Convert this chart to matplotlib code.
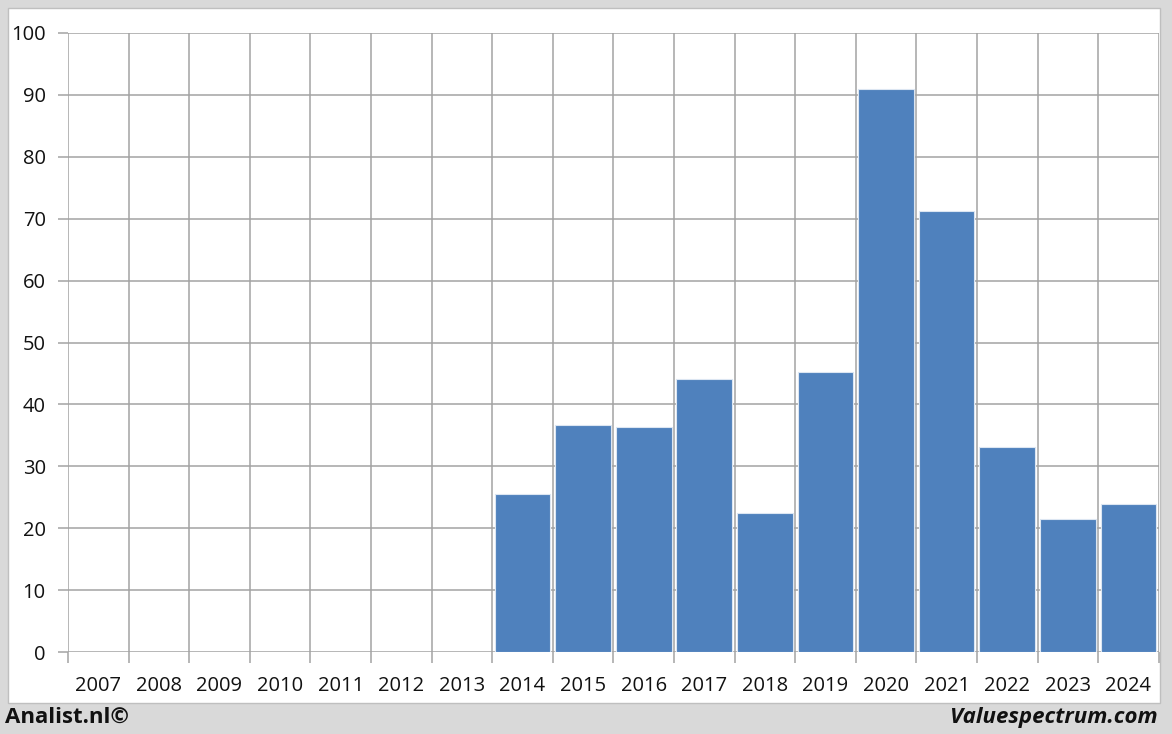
import matplotlib
matplotlib.use("Agg")
import matplotlib.pyplot as plt
from matplotlib.patches import Rectangle
import numpy as np

years = ["2007", "2008", "2009", "2010", "2011", "2012", "2013", "2014", "2015",
         "2016", "2017", "2018", "2019", "2020", "2021", "2022", "2023", "2024"]
values = [None, None, None, None, None, None, None, 25.6, 36.6,
          36.4, 44.1, 22.5, 45.3, 91.0, 71.2, 33.1, 21.5, 23.9]
yticks = [0, 10, 20, 30, 40, 50, 60, 70, 80, 90, 100]

W, H = 1172, 734
fig = plt.figure(figsize=(W / 100, H / 100), dpi=100)
fig.patch.set_facecolor("#d9d9d9")
fig.patches.append(Rectangle((8 / W, 1 - 703 / H), (1160 - 8) / W, (703 - 8) / H,
                             transform=fig.transFigure, facecolor="white",
                             edgecolor="#bfbfbf", linewidth=1, zorder=-10))

ax = fig.add_axes([68 / W, 1 - 652 / H, (1158.7 - 68) / W, (652 - 33) / H])
ax.set_facecolor("white")
ax.patch.set_alpha(0)
ax.set_zorder(5)

x = np.arange(len(years))
for xi, v in zip(x, values):
    if v is not None:
        ax.bar(xi, v, width=0.92, color="#4f81bd", edgecolor="#dce6f2",
               linewidth=0.8, zorder=3)

ax.set_xlim(-0.5, len(years) - 0.5)
ax.set_ylim(0, 100)

grid_c = "#a3a3a3"
ax.set_yticks(yticks)
ax.set_yticklabels([str(t) for t in yticks])
ax.set_xticks(x)
ax.set_xticklabels(years)
ax.set_xticks(np.arange(-0.5, len(years)), minor=True)

ax.tick_params(axis="y", which="major", length=7, color=grid_c, width=1.1,
               labelsize=14.5, pad=9)
ax.tick_params(axis="x", which="major", length=0, labelsize=14.5, pad=17)
ax.tick_params(axis="x", which="minor", length=8, color=grid_c, width=1.1)

ax.grid(axis="y", which="major", color=grid_c, linewidth=1.1, zorder=1)
ax.grid(axis="x", which="minor", color=grid_c, linewidth=1.1, zorder=1)
ax.set_axisbelow(True)
for s in ax.spines.values():
    s.set_visible(False)

for lab in ax.get_xticklabels() + ax.get_yticklabels():
    lab.set_fontfamily("Open Sans")
    lab.set_color("#111111")

fig.text(5 / W, 1 - 717 / H, "Analist.nl©", fontsize=16, fontweight="bold",
         fontfamily="Open Sans", va="center", ha="left", color="#111111")
fig.text(1158 / W, 1 - 717 / H, "Valuespectrum.com", fontsize=16,
         fontweight="bold", fontstyle="italic", fontfamily="Open Sans",
         va="center", ha="right", color="#111111")

fig.savefig("out.png", dpi=100, facecolor=fig.get_facecolor())
